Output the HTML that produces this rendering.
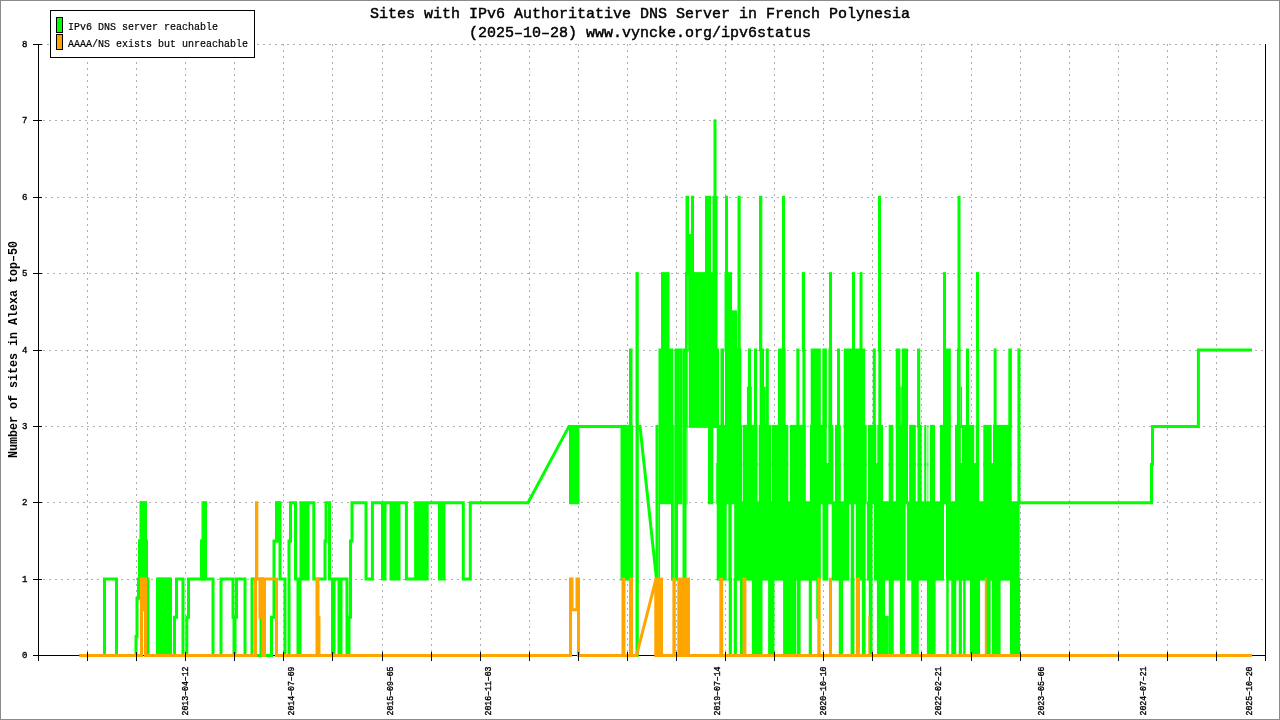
<!DOCTYPE html>
<html><head><meta charset="utf-8"><title>IPv6 DNS French Polynesia</title>
<style>html,body{margin:0;padding:0;background:#fff;width:1280px;height:720px;overflow:hidden}svg{display:block;will-change:transform}text{font-family:"Liberation Mono",monospace}</style>
</head><body>
<svg width="1280" height="720" viewBox="0 0 1280 720">
<rect x="0" y="0" width="1280" height="720" fill="#fff"/>
<g stroke="#b0b0b0" stroke-width="1" stroke-dasharray="2 4" shape-rendering="crispEdges"><line x1="41" y1="44.5" x2="1265" y2="44.5"/><line x1="37" y1="120.5" x2="1265" y2="120.5"/><line x1="39" y1="197.5" x2="1265" y2="197.5"/><line x1="41" y1="273.5" x2="1265" y2="273.5"/><line x1="37" y1="350.5" x2="1265" y2="350.5"/><line x1="39" y1="426.5" x2="1265" y2="426.5"/><line x1="41" y1="502.5" x2="1265" y2="502.5"/><line x1="37" y1="579.5" x2="1265" y2="579.5"/><line x1="87.5" y1="44" x2="87.5" y2="655"/><line x1="136.5" y1="44" x2="136.5" y2="655"/><line x1="185.5" y1="44" x2="185.5" y2="655"/><line x1="234.5" y1="44" x2="234.5" y2="655"/><line x1="283.5" y1="44" x2="283.5" y2="655"/><line x1="332.5" y1="44" x2="332.5" y2="655"/><line x1="382.5" y1="44" x2="382.5" y2="655"/><line x1="431.5" y1="44" x2="431.5" y2="655"/><line x1="480.5" y1="44" x2="480.5" y2="655"/><line x1="529.5" y1="44" x2="529.5" y2="655"/><line x1="578.5" y1="44" x2="578.5" y2="655"/><line x1="627.5" y1="44" x2="627.5" y2="655"/><line x1="676.5" y1="44" x2="676.5" y2="655"/><line x1="725.5" y1="44" x2="725.5" y2="655"/><line x1="774.5" y1="44" x2="774.5" y2="655"/><line x1="823.5" y1="44" x2="823.5" y2="655"/><line x1="872.5" y1="44" x2="872.5" y2="655"/><line x1="921.5" y1="44" x2="921.5" y2="655"/><line x1="971.5" y1="44" x2="971.5" y2="655"/><line x1="1020.5" y1="44" x2="1020.5" y2="655"/><line x1="1069.5" y1="44" x2="1069.5" y2="655"/><line x1="1118.5" y1="44" x2="1118.5" y2="655"/><line x1="1167.5" y1="44" x2="1167.5" y2="655"/><line x1="1216.5" y1="44" x2="1216.5" y2="655"/></g>
<g stroke="#000" stroke-width="1" shape-rendering="crispEdges" fill="none">
<line x1="38.5" y1="44" x2="38.5" y2="661"/>
<line x1="33" y1="655.5" x2="1266" y2="655.5"/>
<line x1="1265.5" y1="44" x2="1265.5" y2="661"/>
</g>
<g fill="none" stroke="#00ff00" stroke-width="3" stroke-linejoin="miter" stroke-linecap="square">
<path d="M81.00 655.50 L104.50 655.50 L104.50 579.12 L116.50 579.12 L116.50 655.50 L136.00 655.50 L136.00 636.41 L137.00 636.41 L137.00 598.22 L138.50 598.22 L138.50 579.12 L139.50 579.12 L139.50 540.94 L141.00 540.94 L141.00 502.75 L145.50 502.75 L145.50 540.94 L146.50 540.94 L146.50 579.12 L148.00 579.12 L148.00 655.50 L157.50 655.50 L157.50 579.12 L160.50 579.12 L160.50 655.50 L163.00 655.50 L163.00 579.12 L165.00 579.12 L165.00 617.31 L166.00 617.31 L166.00 579.12 L168.00 579.12 L168.00 655.50 L169.00 655.50 L169.00 579.12 L170.50 579.12 L170.50 655.50 L174.50 655.50 L174.50 617.31 L176.50 617.31 L176.50 579.12 L183.00 579.12 L183.00 655.50 L186.80 655.50 L186.80 617.31 L188.50 617.31 L188.50 579.12 L201.50 579.12 L201.50 540.94 L203.00 540.94 L203.00 502.75 L205.50 502.75 L205.50 579.12 L213.00 579.12 L213.00 655.50 L221.00 655.50 L221.00 579.12 L233.00 579.12 L233.00 617.31 L234.00 617.31 L234.00 655.50 L235.00 655.50 L235.00 617.31 L236.50 617.31 L236.50 579.12 L245.00 579.12 L245.00 655.50 L252.00 655.50 L252.00 579.12 L255.50 579.12 L255.50 655.50 L261.00 655.50 L261.00 579.12 L262.50 579.12 L262.50 655.50 L271.50 655.50 L271.50 617.31 L274.00 617.31 L274.00 540.94 L276.50 540.94 L276.50 502.75 L280.00 502.75 L280.00 579.12 L285.00 579.12 L285.00 655.50 L289.00 655.50 L289.00 540.94 L290.50 540.94 L290.50 502.75 L295.50 502.75 L295.50 579.12 L298.00 579.12 L298.00 655.50 L300.00 655.50 L300.00 579.12 L301.00 579.12 L301.00 502.75 L303.00 502.75 L303.00 579.12 L304.00 579.12 L304.00 502.75 L306.50 502.75 L306.50 579.12 L308.00 579.12 L308.00 502.75 L313.80 502.75 L313.80 579.12 L325.00 579.12 L325.00 540.94 L326.00 540.94 L326.00 502.75 L329.50 502.75 L329.50 579.12 L331.00 579.12 L332.50 579.12 L332.50 655.50 L334.00 655.50 L334.00 579.12 L339.00 579.12 L339.00 655.50 L341.00 655.50 L341.00 579.12 L347.00 579.12 L347.00 655.50 L349.00 655.50 L349.00 617.31 L350.50 617.31 L350.50 540.94 L352.00 540.94 L352.00 502.75 L366.00 502.75 L366.00 579.12 L372.40 579.12 L372.40 502.75 L382.50 502.75 L382.50 579.12 L385.00 579.12 L385.00 502.75 L391.00 502.75 L391.00 579.12 L392.50 579.12 L392.50 502.75 L394.00 502.75 L394.00 579.12 L395.50 579.12 L395.50 502.75 L397.00 502.75 L397.00 579.12 L399.00 579.12 L399.00 502.75 L406.40 502.75 L406.40 579.12 L415.60 579.12 L415.60 502.75 L417.50 502.75 L417.50 579.12 L419.00 579.12 L419.00 502.75 L420.50 502.75 L420.50 579.12 L422.00 579.12 L422.00 502.75 L423.50 502.75 L423.50 579.12 L425.00 579.12 L425.00 502.75 L426.50 502.75 L426.50 579.12 L427.20 579.12 L427.20 502.75 L439.50 502.75 L439.50 579.12 L441.00 579.12 L441.00 502.75 L442.50 502.75 L442.50 579.12 L443.90 579.12 L443.90 502.75 L463.30 502.75 L463.30 579.12 L470.30 579.12 L470.30 502.75 L528.00 502.75 L569.00 426.38 L570.50 426.38 L570.50 502.75 L572.00 502.75 L572.00 426.38 L573.50 426.38 L573.50 502.75 L575.00 502.75 L575.00 426.38 L576.50 426.38 L576.50 502.75 L578.00 502.75 L578.00 426.38 L621.00 426.38"/>
<path d="M1019.70 502.75 L1151.50 502.75 L1151.50 464.56 L1152.50 464.56 L1152.50 426.38 L1198.40 426.38 L1198.40 350.00 L1250.50 350.00"/>
<path d="M640 426.38 L656.5 579.12"/>
</g>
<g fill="#00ff00"><rect x="620.50" y="424.88" width="12.50" height="155.75"/><rect x="629.00" y="348.50" width="3.50" height="79.38"/><rect x="635.50" y="272.12" width="3.30" height="384.88"/><rect x="655.50" y="424.88" width="3.00" height="155.75"/><rect x="658.50" y="348.50" width="1.50" height="232.12"/><rect x="660.00" y="348.50" width="11.00" height="155.75"/><rect x="661.00" y="272.12" width="8.50" height="79.38"/><rect x="671.00" y="348.50" width="2.20" height="232.12"/><rect x="673.20" y="424.88" width="1.30" height="155.75"/><rect x="674.50" y="348.50" width="3.50" height="232.12"/><rect x="678.00" y="348.50" width="4.50" height="155.75"/><rect x="682.50" y="348.50" width="4.00" height="232.12"/><rect x="686.50" y="348.50" width="1.00" height="155.75"/><rect x="685.00" y="272.12" width="2.50" height="155.75"/><rect x="687.50" y="272.12" width="1.30" height="79.38"/><rect x="688.80" y="272.12" width="28.70" height="155.75"/><rect x="685.50" y="195.75" width="3.50" height="79.38"/><rect x="689.00" y="233.94" width="2.00" height="41.19"/><rect x="691.00" y="195.75" width="3.00" height="79.38"/><rect x="705.00" y="195.75" width="6.00" height="79.38"/><rect x="712.50" y="195.75" width="5.00" height="79.38"/><rect x="713.50" y="119.38" width="3.00" height="79.38"/><rect x="708.00" y="424.88" width="5.30" height="79.38"/><rect x="724.50" y="272.12" width="7.50" height="79.38"/><rect x="732.00" y="310.31" width="5.00" height="41.19"/><rect x="737.50" y="195.75" width="3.20" height="155.75"/><rect x="725.00" y="195.75" width="3.00" height="79.38"/><rect x="759.00" y="195.75" width="3.30" height="155.75"/><rect x="782.00" y="195.75" width="3.00" height="155.75"/><rect x="801.80" y="272.12" width="3.20" height="79.38"/><rect x="829.00" y="272.12" width="3.00" height="79.38"/><rect x="852.00" y="272.12" width="3.00" height="79.38"/><rect x="859.50" y="272.12" width="3.00" height="79.38"/><rect x="878.00" y="195.75" width="3.00" height="155.75"/><rect x="943.00" y="272.12" width="3.00" height="79.38"/><rect x="957.50" y="195.75" width="3.00" height="155.75"/><rect x="976.00" y="272.12" width="3.00" height="79.38"/><rect x="714.70" y="348.50" width="4.30" height="79.38"/><rect x="720.50" y="348.50" width="3.50" height="79.38"/><rect x="725.00" y="348.50" width="16.30" height="79.38"/><rect x="746.90" y="386.69" width="4.90" height="41.19"/><rect x="748.00" y="348.50" width="3.00" height="41.19"/><rect x="754.00" y="348.50" width="3.00" height="79.38"/><rect x="759.60" y="348.50" width="4.40" height="79.38"/><rect x="764.00" y="386.69" width="1.70" height="41.19"/><rect x="765.70" y="348.50" width="3.10" height="79.38"/><rect x="778.00" y="348.50" width="7.60" height="79.38"/><rect x="796.30" y="348.50" width="3.10" height="79.38"/><rect x="802.40" y="348.50" width="3.10" height="79.38"/><rect x="810.70" y="348.50" width="10.10" height="79.38"/><rect x="822.30" y="348.50" width="4.60" height="79.38"/><rect x="828.40" y="348.50" width="3.70" height="79.38"/><rect x="837.00" y="348.50" width="3.00" height="79.38"/><rect x="843.70" y="348.50" width="21.40" height="79.38"/><rect x="872.80" y="348.50" width="3.00" height="79.38"/><rect x="878.30" y="348.50" width="3.00" height="79.38"/><rect x="895.70" y="348.50" width="4.60" height="79.38"/><rect x="900.30" y="386.69" width="1.50" height="41.19"/><rect x="901.80" y="348.50" width="6.20" height="79.38"/><rect x="917.10" y="348.50" width="3.10" height="79.38"/><rect x="943.00" y="348.50" width="7.80" height="79.38"/><rect x="956.90" y="348.50" width="3.70" height="79.38"/><rect x="960.60" y="386.69" width="1.40" height="41.19"/><rect x="966.00" y="348.50" width="3.10" height="79.38"/><rect x="976.10" y="348.50" width="3.10" height="79.38"/><rect x="993.60" y="348.50" width="3.00" height="79.38"/><rect x="1008.30" y="348.50" width="3.60" height="79.38"/><rect x="1017.40" y="348.50" width="3.10" height="155.75"/><rect x="715.80" y="463.06" width="0.90" height="41.19"/><rect x="138.75" y="539.44" width="8.15" height="41.19"/><rect x="140.00" y="501.25" width="5.50" height="41.19"/><rect x="157.00" y="577.62" width="5.00" height="41.19"/><rect x="163.00" y="577.62" width="7.00" height="79.38"/><rect x="157.00" y="615.81" width="13.00" height="41.19"/><rect x="275.50" y="501.25" width="4.50" height="41.19"/><rect x="201.50" y="539.44" width="4.00" height="41.19"/><rect x="203.00" y="501.25" width="2.50" height="41.19"/><rect x="716.70" y="463.06" width="25.50" height="41.19"/><rect x="742.90" y="463.06" width="14.60" height="41.19"/><rect x="758.70" y="463.06" width="12.30" height="41.19"/><rect x="771.70" y="463.06" width="16.60" height="41.19"/><rect x="790.00" y="463.06" width="15.80" height="41.19"/><rect x="810.00" y="463.06" width="23.30" height="41.19"/><rect x="835.00" y="463.06" width="5.80" height="41.19"/><rect x="843.70" y="463.06" width="23.00" height="41.19"/><rect x="868.00" y="463.06" width="15.00" height="41.19"/><rect x="888.70" y="463.06" width="4.60" height="41.19"/><rect x="895.80" y="463.06" width="12.20" height="41.19"/><rect x="909.20" y="463.06" width="6.60" height="41.19"/><rect x="917.50" y="463.06" width="4.20" height="41.19"/><rect x="924.20" y="463.06" width="2.10" height="41.19"/><rect x="927.50" y="463.06" width="0.80" height="41.19"/><rect x="930.00" y="463.06" width="5.00" height="41.19"/><rect x="940.00" y="463.06" width="10.80" height="41.19"/><rect x="955.00" y="463.06" width="24.20" height="41.19"/><rect x="983.30" y="463.06" width="28.40" height="41.19"/><rect x="716.70" y="424.88" width="25.50" height="41.19"/><rect x="742.90" y="424.88" width="14.60" height="41.19"/><rect x="758.70" y="424.88" width="12.30" height="41.19"/><rect x="771.70" y="424.88" width="16.60" height="41.19"/><rect x="790.00" y="424.88" width="15.80" height="41.19"/><rect x="810.00" y="424.88" width="16.70" height="41.19"/><rect x="828.30" y="424.88" width="5.00" height="41.19"/><rect x="835.00" y="424.88" width="5.80" height="41.19"/><rect x="843.70" y="424.88" width="23.00" height="41.19"/><rect x="868.00" y="424.88" width="8.30" height="41.19"/><rect x="877.30" y="424.88" width="5.70" height="41.19"/><rect x="888.70" y="424.88" width="4.60" height="41.19"/><rect x="895.80" y="424.88" width="12.20" height="41.19"/><rect x="909.20" y="424.88" width="6.60" height="41.19"/><rect x="917.50" y="424.88" width="4.20" height="41.19"/><rect x="924.20" y="424.88" width="2.10" height="41.19"/><rect x="927.50" y="424.88" width="0.80" height="41.19"/><rect x="930.00" y="424.88" width="5.00" height="41.19"/><rect x="940.00" y="424.88" width="10.80" height="41.19"/><rect x="955.00" y="424.88" width="5.80" height="41.19"/><rect x="962.00" y="424.88" width="12.20" height="41.19"/><rect x="975.80" y="424.88" width="3.40" height="41.19"/><rect x="983.30" y="424.88" width="8.40" height="41.19"/><rect x="993.00" y="424.88" width="18.70" height="41.19"/><rect x="716.70" y="501.25" width="10.00" height="79.38"/><rect x="728.30" y="501.25" width="3.40" height="79.38"/><rect x="734.20" y="501.25" width="86.60" height="79.38"/><rect x="822.50" y="501.25" width="5.80" height="79.38"/><rect x="831.70" y="501.25" width="17.50" height="79.38"/><rect x="850.80" y="501.25" width="3.40" height="79.38"/><rect x="855.80" y="501.25" width="9.80" height="79.38"/><rect x="866.90" y="501.25" width="5.60" height="79.38"/><rect x="874.00" y="501.25" width="31.60" height="79.38"/><rect x="906.90" y="501.25" width="37.10" height="79.38"/><rect x="946.00" y="501.25" width="73.70" height="79.38"/><rect x="816.25" y="577.62" width="1.85" height="41.19"/><rect x="885.00" y="615.81" width="3.75" height="41.19"/><rect x="728.75" y="577.62" width="3.15" height="79.38"/><rect x="733.75" y="577.62" width="3.15" height="79.38"/><rect x="740.00" y="577.62" width="3.10" height="79.38"/><rect x="751.90" y="577.62" width="10.60" height="79.38"/><rect x="768.10" y="577.62" width="6.30" height="79.38"/><rect x="783.10" y="577.62" width="13.15" height="79.38"/><rect x="796.90" y="577.62" width="3.70" height="79.38"/><rect x="808.75" y="577.62" width="3.15" height="79.38"/><rect x="838.75" y="577.62" width="4.35" height="79.38"/><rect x="850.60" y="577.62" width="3.80" height="79.38"/><rect x="861.90" y="577.62" width="3.70" height="79.38"/><rect x="868.75" y="577.62" width="3.75" height="79.38"/><rect x="876.90" y="577.62" width="8.10" height="79.38"/><rect x="888.75" y="577.62" width="5.00" height="79.38"/><rect x="900.00" y="577.62" width="5.00" height="79.38"/><rect x="911.25" y="577.62" width="7.50" height="79.38"/><rect x="926.90" y="577.62" width="8.70" height="79.38"/><rect x="946.25" y="577.62" width="2.50" height="79.38"/><rect x="951.25" y="577.62" width="5.00" height="79.38"/><rect x="958.75" y="577.62" width="3.15" height="79.38"/><rect x="963.10" y="577.62" width="2.50" height="79.38"/><rect x="970.00" y="577.62" width="10.00" height="79.38"/><rect x="985.60" y="577.62" width="5.00" height="79.38"/><rect x="991.90" y="577.62" width="8.70" height="79.38"/><rect x="1010.00" y="577.62" width="10.00" height="79.38"/></g>
<g fill="none" stroke="#ffa500" stroke-width="3" stroke-linejoin="miter" stroke-linecap="square">
<path d="M81.00 655.50 L141.50 655.50 L141.50 579.12 L143.50 579.12 L143.50 609.67 L144.50 609.67 L144.50 579.12 L145.50 579.12 L145.50 655.50 L255.50 655.50 L255.50 579.12 L256.50 579.12 L256.50 502.75 L256.80 502.75 L256.80 579.12 L260.00 579.12 L260.00 617.31 L261.00 617.31 L261.00 579.12 L263.00 579.12 L263.00 655.50 L264.50 655.50 L264.50 579.12 L276.50 579.12 L276.50 655.50 L317.00 655.50 L317.00 579.12 L318.00 579.12 L318.00 617.31 L319.00 617.31 L319.00 655.50 L570.50 655.50 L570.50 579.12 L572.00 579.12 L572.00 609.67 L577.00 609.67 L577.00 579.12 L578.50 579.12 L578.50 655.50 L636.50 655.50 L656.00 579.12 L656.00 655.50 L1250.50 655.50"/>
</g>
<g fill="#ffa500"><rect x="621.50" y="577.62" width="4.00" height="79.38"/><rect x="629.00" y="577.62" width="4.00" height="79.38"/><rect x="654.50" y="577.62" width="8.50" height="79.38"/><rect x="672.40" y="577.62" width="3.40" height="79.38"/><rect x="677.30" y="577.62" width="12.70" height="79.38"/><rect x="719.30" y="577.62" width="3.90" height="79.38"/><rect x="742.50" y="577.62" width="3.90" height="79.38"/><rect x="817.30" y="577.62" width="3.30" height="79.38"/><rect x="829.00" y="577.62" width="3.00" height="79.38"/><rect x="856.00" y="577.62" width="4.00" height="79.38"/><rect x="868.30" y="615.81" width="1.50" height="41.19"/><rect x="984.80" y="577.62" width="1.90" height="79.38"/></g>
<g stroke="#000" stroke-width="1" shape-rendering="crispEdges" fill="none">
<line x1="33" y1="44.5" x2="42" y2="44.5"/><line x1="33" y1="120.5" x2="42" y2="120.5"/><line x1="33" y1="197.5" x2="42" y2="197.5"/><line x1="33" y1="273.5" x2="42" y2="273.5"/><line x1="33" y1="350.5" x2="42" y2="350.5"/><line x1="33" y1="426.5" x2="42" y2="426.5"/><line x1="33" y1="502.5" x2="42" y2="502.5"/><line x1="33" y1="579.5" x2="42" y2="579.5"/><line x1="33" y1="655.5" x2="42" y2="655.5"/><line x1="87.5" y1="652" x2="87.5" y2="661"/><line x1="136.5" y1="652" x2="136.5" y2="661"/><line x1="185.5" y1="652" x2="185.5" y2="661"/><line x1="234.5" y1="652" x2="234.5" y2="661"/><line x1="283.5" y1="652" x2="283.5" y2="661"/><line x1="332.5" y1="652" x2="332.5" y2="661"/><line x1="382.5" y1="652" x2="382.5" y2="661"/><line x1="431.5" y1="652" x2="431.5" y2="661"/><line x1="480.5" y1="652" x2="480.5" y2="661"/><line x1="529.5" y1="652" x2="529.5" y2="661"/><line x1="578.5" y1="652" x2="578.5" y2="661"/><line x1="627.5" y1="652" x2="627.5" y2="661"/><line x1="676.5" y1="652" x2="676.5" y2="661"/><line x1="725.5" y1="652" x2="725.5" y2="661"/><line x1="774.5" y1="652" x2="774.5" y2="661"/><line x1="823.5" y1="652" x2="823.5" y2="661"/><line x1="872.5" y1="652" x2="872.5" y2="661"/><line x1="921.5" y1="652" x2="921.5" y2="661"/><line x1="971.5" y1="652" x2="971.5" y2="661"/><line x1="1020.5" y1="652" x2="1020.5" y2="661"/><line x1="1069.5" y1="652" x2="1069.5" y2="661"/><line x1="1118.5" y1="652" x2="1118.5" y2="661"/><line x1="1167.5" y1="652" x2="1167.5" y2="661"/><line x1="1216.5" y1="652" x2="1216.5" y2="661"/>
</g>
<g font-family="Liberation Mono" font-size="9" fill="#000" stroke="#000" stroke-width="0.35"><text x="27.5" y="657.5" text-anchor="end">0</text><text x="27.5" y="581.5" text-anchor="end">1</text><text x="27.5" y="504.5" text-anchor="end">2</text><text x="27.5" y="428.5" text-anchor="end">3</text><text x="27.5" y="352.5" text-anchor="end">4</text><text x="27.5" y="275.5" text-anchor="end">5</text><text x="27.5" y="199.5" text-anchor="end">6</text><text x="27.5" y="122.5" text-anchor="end">7</text><text x="27.5" y="46.5" text-anchor="end">8</text></g>
<g font-family="Liberation Mono" font-size="9" fill="#000" stroke="#000" stroke-width="0.35"><text transform="translate(188.3 715.5) rotate(-90)" x="0" y="0" textLength="49" lengthAdjust="spacingAndGlyphs">2013–04–12</text><text transform="translate(294.3 715.5) rotate(-90)" x="0" y="0" textLength="49" lengthAdjust="spacingAndGlyphs">2014–07–09</text><text transform="translate(392.8 715.5) rotate(-90)" x="0" y="0" textLength="49" lengthAdjust="spacingAndGlyphs">2015–09–05</text><text transform="translate(491.3 715.5) rotate(-90)" x="0" y="0" textLength="49" lengthAdjust="spacingAndGlyphs">2016–11–03</text><text transform="translate(720.1 715.5) rotate(-90)" x="0" y="0" textLength="49" lengthAdjust="spacingAndGlyphs">2019–07–14</text><text transform="translate(825.5 715.5) rotate(-90)" x="0" y="0" textLength="49" lengthAdjust="spacingAndGlyphs">2020–10–10</text><text transform="translate(941.4 715.5) rotate(-90)" x="0" y="0" textLength="49" lengthAdjust="spacingAndGlyphs">2022–02–21</text><text transform="translate(1043.5 715.5) rotate(-90)" x="0" y="0" textLength="49" lengthAdjust="spacingAndGlyphs">2023–05–06</text><text transform="translate(1146.3 715.5) rotate(-90)" x="0" y="0" textLength="49" lengthAdjust="spacingAndGlyphs">2024–07–21</text><text transform="translate(1252.4 715.5) rotate(-90)" x="0" y="0" textLength="49" lengthAdjust="spacingAndGlyphs">2025–10–20</text></g>
<text transform="translate(16.5 458) rotate(-90)" font-family="Liberation Mono" font-weight="bold" font-size="13.5" textLength="217" lengthAdjust="spacingAndGlyphs">Number of sites in Alexa top–50</text>
<g font-family="Liberation Mono" font-size="15" fill="#000" stroke="#000" stroke-width="0.45">
<text x="370" y="18" textLength="540" lengthAdjust="spacingAndGlyphs">Sites with IPv6 Authoritative DNS Server in French Polynesia</text>
<text x="469" y="37" textLength="342" lengthAdjust="spacingAndGlyphs">(2025–10–28) www.vyncke.org/ipv6status</text>
</g>
<g shape-rendering="crispEdges">
<rect x="50.5" y="10.5" width="204" height="47" fill="#fff" stroke="#000"/>
<rect x="56.5" y="17.5" width="6" height="15" fill="#00ff00" stroke="#000"/>
<rect x="56.5" y="34.5" width="6" height="15" fill="#ffa500" stroke="#000"/>
</g>
<g font-family="Liberation Mono" font-size="11.5" fill="#000" stroke="#000" stroke-width="0.2">
<text x="68" y="30" textLength="150" lengthAdjust="spacingAndGlyphs">IPv6 DNS server reachable</text>
<text x="68" y="47" textLength="180" lengthAdjust="spacingAndGlyphs">AAAA/NS exists but unreachable</text>
</g>
<rect x="0.5" y="0.5" width="1279" height="719" fill="none" stroke="#8a8a8a" stroke-width="1" shape-rendering="crispEdges"/>
</svg>
</body></html>
